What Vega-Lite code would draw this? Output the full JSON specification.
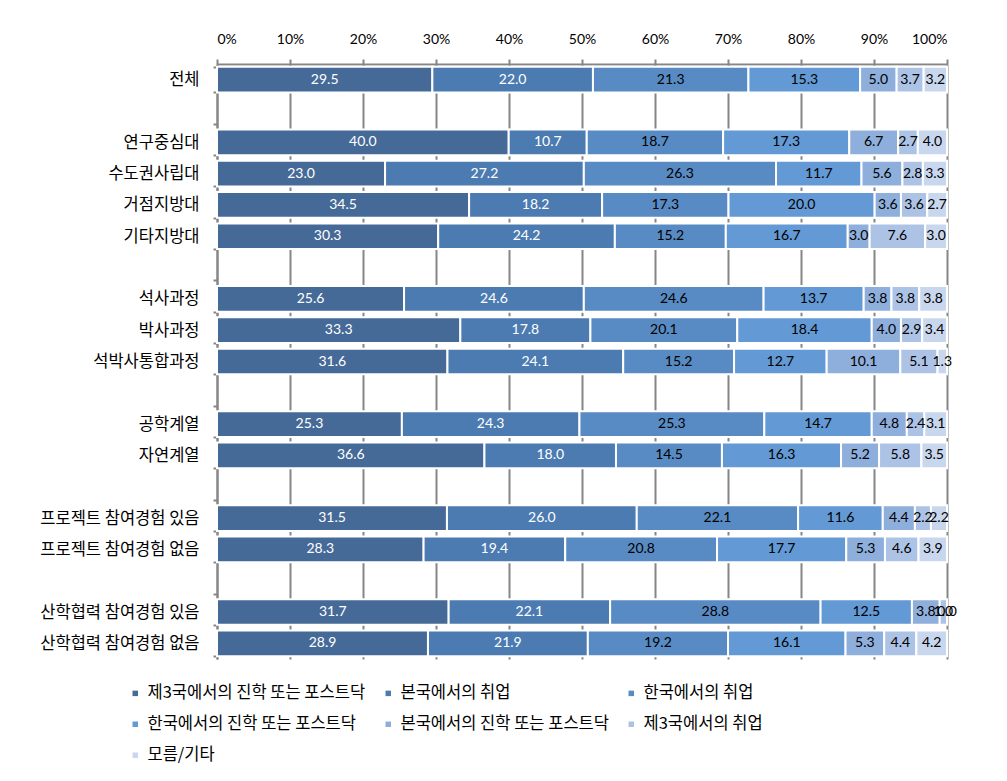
{
  "$schema": "https://vega.github.io/schema/vega-lite/v6.json",
  "autosize": {"type": "none"},
  "width": 730,
  "height": 595,
  "padding": {"left": 217, "top": 64, "right": 60, "bottom": 122},
  "background": "white",
  "config": {"view": {"stroke": null}},
  "data": {
    "values": [
      {"g": "전체", "k": 1, "s": "제3국에서의 진학 또는 포스트닥", "v": 29.5},
      {"g": "전체", "k": 2, "s": "본국에서의 취업", "v": 22.0},
      {"g": "전체", "k": 3, "s": "한국에서의 취업", "v": 21.3},
      {"g": "전체", "k": 4, "s": "한국에서의 진학 또는 포스트닥", "v": 15.3},
      {"g": "전체", "k": 5, "s": "본국에서의 진학 또는 포스트닥", "v": 5.0},
      {"g": "전체", "k": 6, "s": "제3국에서의 취업", "v": 3.7},
      {"g": "전체", "k": 7, "s": "모름/기타", "v": 3.2},
      {"g": "연구중심대", "k": 1, "s": "제3국에서의 진학 또는 포스트닥", "v": 40.0},
      {"g": "연구중심대", "k": 2, "s": "본국에서의 취업", "v": 10.7},
      {"g": "연구중심대", "k": 3, "s": "한국에서의 취업", "v": 18.7},
      {"g": "연구중심대", "k": 4, "s": "한국에서의 진학 또는 포스트닥", "v": 17.3},
      {"g": "연구중심대", "k": 5, "s": "본국에서의 진학 또는 포스트닥", "v": 6.7},
      {"g": "연구중심대", "k": 6, "s": "제3국에서의 취업", "v": 2.7},
      {"g": "연구중심대", "k": 7, "s": "모름/기타", "v": 4.0},
      {"g": "수도권사립대", "k": 1, "s": "제3국에서의 진학 또는 포스트닥", "v": 23.0},
      {"g": "수도권사립대", "k": 2, "s": "본국에서의 취업", "v": 27.2},
      {"g": "수도권사립대", "k": 3, "s": "한국에서의 취업", "v": 26.3},
      {"g": "수도권사립대", "k": 4, "s": "한국에서의 진학 또는 포스트닥", "v": 11.7},
      {"g": "수도권사립대", "k": 5, "s": "본국에서의 진학 또는 포스트닥", "v": 5.6},
      {"g": "수도권사립대", "k": 6, "s": "제3국에서의 취업", "v": 2.8},
      {"g": "수도권사립대", "k": 7, "s": "모름/기타", "v": 3.3},
      {"g": "거점지방대", "k": 1, "s": "제3국에서의 진학 또는 포스트닥", "v": 34.5},
      {"g": "거점지방대", "k": 2, "s": "본국에서의 취업", "v": 18.2},
      {"g": "거점지방대", "k": 3, "s": "한국에서의 취업", "v": 17.3},
      {"g": "거점지방대", "k": 4, "s": "한국에서의 진학 또는 포스트닥", "v": 20.0},
      {"g": "거점지방대", "k": 5, "s": "본국에서의 진학 또는 포스트닥", "v": 3.6},
      {"g": "거점지방대", "k": 6, "s": "제3국에서의 취업", "v": 3.6},
      {"g": "거점지방대", "k": 7, "s": "모름/기타", "v": 2.7},
      {"g": "기타지방대", "k": 1, "s": "제3국에서의 진학 또는 포스트닥", "v": 30.3},
      {"g": "기타지방대", "k": 2, "s": "본국에서의 취업", "v": 24.2},
      {"g": "기타지방대", "k": 3, "s": "한국에서의 취업", "v": 15.2},
      {"g": "기타지방대", "k": 4, "s": "한국에서의 진학 또는 포스트닥", "v": 16.7},
      {"g": "기타지방대", "k": 5, "s": "본국에서의 진학 또는 포스트닥", "v": 3.0},
      {"g": "기타지방대", "k": 6, "s": "제3국에서의 취업", "v": 7.6},
      {"g": "기타지방대", "k": 7, "s": "모름/기타", "v": 3.0},
      {"g": "석사과정", "k": 1, "s": "제3국에서의 진학 또는 포스트닥", "v": 25.6},
      {"g": "석사과정", "k": 2, "s": "본국에서의 취업", "v": 24.6},
      {"g": "석사과정", "k": 3, "s": "한국에서의 취업", "v": 24.6},
      {"g": "석사과정", "k": 4, "s": "한국에서의 진학 또는 포스트닥", "v": 13.7},
      {"g": "석사과정", "k": 5, "s": "본국에서의 진학 또는 포스트닥", "v": 3.8},
      {"g": "석사과정", "k": 6, "s": "제3국에서의 취업", "v": 3.8},
      {"g": "석사과정", "k": 7, "s": "모름/기타", "v": 3.8},
      {"g": "박사과정", "k": 1, "s": "제3국에서의 진학 또는 포스트닥", "v": 33.3},
      {"g": "박사과정", "k": 2, "s": "본국에서의 취업", "v": 17.8},
      {"g": "박사과정", "k": 3, "s": "한국에서의 취업", "v": 20.1},
      {"g": "박사과정", "k": 4, "s": "한국에서의 진학 또는 포스트닥", "v": 18.4},
      {"g": "박사과정", "k": 5, "s": "본국에서의 진학 또는 포스트닥", "v": 4.0},
      {"g": "박사과정", "k": 6, "s": "제3국에서의 취업", "v": 2.9},
      {"g": "박사과정", "k": 7, "s": "모름/기타", "v": 3.4},
      {"g": "석박사통합과정", "k": 1, "s": "제3국에서의 진학 또는 포스트닥", "v": 31.6},
      {"g": "석박사통합과정", "k": 2, "s": "본국에서의 취업", "v": 24.1},
      {"g": "석박사통합과정", "k": 3, "s": "한국에서의 취업", "v": 15.2},
      {"g": "석박사통합과정", "k": 4, "s": "한국에서의 진학 또는 포스트닥", "v": 12.7},
      {"g": "석박사통합과정", "k": 5, "s": "본국에서의 진학 또는 포스트닥", "v": 10.1},
      {"g": "석박사통합과정", "k": 6, "s": "제3국에서의 취업", "v": 5.1},
      {"g": "석박사통합과정", "k": 7, "s": "모름/기타", "v": 1.3},
      {"g": "공학계열", "k": 1, "s": "제3국에서의 진학 또는 포스트닥", "v": 25.3},
      {"g": "공학계열", "k": 2, "s": "본국에서의 취업", "v": 24.3},
      {"g": "공학계열", "k": 3, "s": "한국에서의 취업", "v": 25.3},
      {"g": "공학계열", "k": 4, "s": "한국에서의 진학 또는 포스트닥", "v": 14.7},
      {"g": "공학계열", "k": 5, "s": "본국에서의 진학 또는 포스트닥", "v": 4.8},
      {"g": "공학계열", "k": 6, "s": "제3국에서의 취업", "v": 2.4},
      {"g": "공학계열", "k": 7, "s": "모름/기타", "v": 3.1},
      {"g": "자연계열", "k": 1, "s": "제3국에서의 진학 또는 포스트닥", "v": 36.6},
      {"g": "자연계열", "k": 2, "s": "본국에서의 취업", "v": 18.0},
      {"g": "자연계열", "k": 3, "s": "한국에서의 취업", "v": 14.5},
      {"g": "자연계열", "k": 4, "s": "한국에서의 진학 또는 포스트닥", "v": 16.3},
      {"g": "자연계열", "k": 5, "s": "본국에서의 진학 또는 포스트닥", "v": 5.2},
      {"g": "자연계열", "k": 6, "s": "제3국에서의 취업", "v": 5.8},
      {"g": "자연계열", "k": 7, "s": "모름/기타", "v": 3.5},
      {"g": "프로젝트 참여경험 있음", "k": 1, "s": "제3국에서의 진학 또는 포스트닥", "v": 31.5},
      {"g": "프로젝트 참여경험 있음", "k": 2, "s": "본국에서의 취업", "v": 26.0},
      {"g": "프로젝트 참여경험 있음", "k": 3, "s": "한국에서의 취업", "v": 22.1},
      {"g": "프로젝트 참여경험 있음", "k": 4, "s": "한국에서의 진학 또는 포스트닥", "v": 11.6},
      {"g": "프로젝트 참여경험 있음", "k": 5, "s": "본국에서의 진학 또는 포스트닥", "v": 4.4},
      {"g": "프로젝트 참여경험 있음", "k": 6, "s": "제3국에서의 취업", "v": 2.2},
      {"g": "프로젝트 참여경험 있음", "k": 7, "s": "모름/기타", "v": 2.2},
      {"g": "프로젝트 참여경험 없음", "k": 1, "s": "제3국에서의 진학 또는 포스트닥", "v": 28.3},
      {"g": "프로젝트 참여경험 없음", "k": 2, "s": "본국에서의 취업", "v": 19.4},
      {"g": "프로젝트 참여경험 없음", "k": 3, "s": "한국에서의 취업", "v": 20.8},
      {"g": "프로젝트 참여경험 없음", "k": 4, "s": "한국에서의 진학 또는 포스트닥", "v": 17.7},
      {"g": "프로젝트 참여경험 없음", "k": 5, "s": "본국에서의 진학 또는 포스트닥", "v": 5.3},
      {"g": "프로젝트 참여경험 없음", "k": 6, "s": "제3국에서의 취업", "v": 4.6},
      {"g": "프로젝트 참여경험 없음", "k": 7, "s": "모름/기타", "v": 3.9},
      {"g": "산학협력 참여경험 있음", "k": 1, "s": "제3국에서의 진학 또는 포스트닥", "v": 31.7},
      {"g": "산학협력 참여경험 있음", "k": 2, "s": "본국에서의 취업", "v": 22.1},
      {"g": "산학협력 참여경험 있음", "k": 3, "s": "한국에서의 취업", "v": 28.8},
      {"g": "산학협력 참여경험 있음", "k": 4, "s": "한국에서의 진학 또는 포스트닥", "v": 12.5},
      {"g": "산학협력 참여경험 있음", "k": 5, "s": "본국에서의 진학 또는 포스트닥", "v": 3.8},
      {"g": "산학협력 참여경험 있음", "k": 6, "s": "제3국에서의 취업", "v": 1.0},
      {"g": "산학협력 참여경험 있음", "k": 7, "s": "모름/기타", "v": 0.0},
      {"g": "산학협력 참여경험 없음", "k": 1, "s": "제3국에서의 진학 또는 포스트닥", "v": 28.9},
      {"g": "산학협력 참여경험 없음", "k": 2, "s": "본국에서의 취업", "v": 21.9},
      {"g": "산학협력 참여경험 없음", "k": 3, "s": "한국에서의 취업", "v": 19.2},
      {"g": "산학협력 참여경험 없음", "k": 4, "s": "한국에서의 진학 또는 포스트닥", "v": 16.1},
      {"g": "산학협력 참여경험 없음", "k": 5, "s": "본국에서의 진학 또는 포스트닥", "v": 5.3},
      {"g": "산학협력 참여경험 없음", "k": 6, "s": "제3국에서의 취업", "v": 4.4},
      {"g": "산학협력 참여경험 없음", "k": 7, "s": "모름/기타", "v": 4.2}
    ]
  },
  "transform": [
    {"stack": "v", "groupby": ["g"], "sort": [{"field": "k", "order": "ascending"}], "offset": "normalize", "as": ["x0", "x1"]},
    {"calculate": "(datum.x0 + datum.x1) / 2", "as": "xm"}
  ],
  "encoding": {
    "y": {
      "field": "g",
      "type": "nominal",
      "title": null,
      "scale": {
        "domain": ["전체", " ", "연구중심대", "수도권사립대", "거점지방대", "기타지방대", "  ", "석사과정", "박사과정", "석박사통합과정", "   ", "공학계열", "자연계열", "    ", "프로젝트 참여경험 있음", "프로젝트 참여경험 없음", "     ", "산학협력 참여경험 있음", "산학협력 참여경험 없음"],
        "paddingInner": 0.18,
        "paddingOuter": 0.09
      },
      "axis": {
        "domainColor": "#868686",
        "domainWidth": 2,
        "tickColor": "#868686",
        "tickWidth": 2,
        "tickSize": 4,
        "tickBand": "extent",
        "labelFont": "Noto Sans CJK KR",
        "labelFontSize": 16.5,
        "labelColor": "#000000",
        "labelPadding": 14,
        "grid": false
      }
    }
  },
  "layer": [
    {
      "mark": {"type": "bar", "stroke": "white", "strokeWidth": 2},
      "encoding": {
        "x": {
          "field": "x0",
          "type": "quantitative",
          "title": null,
          "scale": {"domain": [0, 1], "nice": false},
          "axis": {
            "orient": "top",
            "values": [0, 0.1, 0.2, 0.3, 0.4, 0.5, 0.6, 0.7, 0.8, 0.9, 1],
            "format": ".0%",
            "labelFont": "Lato",
            "labelFontSize": 14,
            "labelColor": "#000000",
            "labelPadding": 13,
            "domainColor": "#868686",
            "domainWidth": 2,
            "tickColor": "#868686",
            "tickWidth": 2,
            "tickSize": 5,
            "grid": true,
            "gridColor": "#868686",
            "gridWidth": 2
          }
        },
        "x2": {"field": "x1"},
        "color": {
          "field": "s",
          "type": "nominal",
          "scale": {
            "domain": ["제3국에서의 진학 또는 포스트닥", "본국에서의 취업", "한국에서의 취업", "한국에서의 진학 또는 포스트닥", "본국에서의 진학 또는 포스트닥", "제3국에서의 취업", "모름/기타"],
            "range": ["#466a97", "#4b7bb1", "#588bc3", "#6399d4", "#8eaedb", "#adc3e6", "#c9d7ee"]
          },
          "legend": {
            "title": null,
            "orient": "none",
            "legendX": -90,
            "legendY": 621,
            "direction": "horizontal",
            "columns": 3,
            "symbolType": "square",
            "symbolSize": 30,
            "symbolStrokeWidth": 0,
            "labelFont": "Noto Sans CJK KR",
            "labelFontSize": 16.5,
            "labelColor": "#000000",
            "labelOffset": 4,
            "rowPadding": 14,
            "columnPadding": 14,
            "labelLimit": 400
          }
        }
      }
    },
    {
      "mark": {"type": "text", "font": "Lato", "fontSize": 14},
      "encoding": {
        "x": {"field": "xm", "type": "quantitative"},
        "text": {"field": "v", "type": "quantitative", "format": ".1f"},
        "color": {"condition": {"test": "datum.k <= 2", "value": "white"}, "value": "black"}
      }
    }
  ]
}
